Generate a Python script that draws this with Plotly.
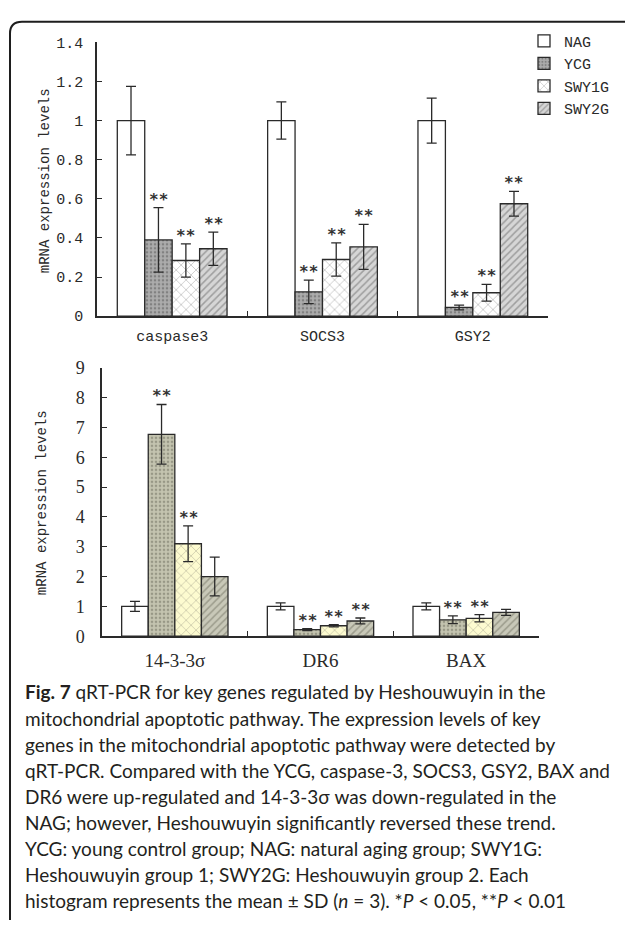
import plotly.graph_objects as go

W, H = 625, 927

# ---------------- data ----------------
groups = ["NAG", "YCG", "SWY1G", "SWY2G"]

top_genes = ["caspase3", "SOCS3", "GSY2"]
top_vals = {
    "NAG":   [1.0, 1.0, 1.0],
    "YCG":   [0.39, 0.125, 0.045],
    "SWY1G": [0.285, 0.29, 0.12],
    "SWY2G": [0.345, 0.355, 0.575],
}
top_sd = {
    "NAG":   [0.175, 0.095, 0.115],
    "YCG":   [0.165, 0.06, 0.012],
    "SWY1G": [0.085, 0.085, 0.043],
    "SWY2G": [0.085, 0.115, 0.063],
}
top_stars = {
    "NAG":   ["", "", ""],
    "YCG":   ["**", "**", "**"],
    "SWY1G": ["**", "**", "**"],
    "SWY2G": ["**", "**", "**"],
}
top_ticks = [0, 0.2, 0.4, 0.6, 0.8, 1.0, 1.2, 1.4]
top_ticktext = ["0", "0.2", "0.4", "0.6", "0.8", "1", "1.2", "1.4"]

bot_genes = ["14-3-3σ", "DR6", "BAX"]
bot_vals = {
    "NAG":   [1.0, 1.0, 1.0],
    "YCG":   [6.77, 0.22, 0.55],
    "SWY1G": [3.1, 0.35, 0.6],
    "SWY2G": [2.0, 0.51, 0.8],
}
bot_sd = {
    "NAG":   [0.17, 0.12, 0.12],
    "YCG":   [1.0, 0.03, 0.13],
    "SWY1G": [0.6, 0.035, 0.12],
    "SWY2G": [0.65, 0.1, 0.1],
}
bot_stars = {
    "NAG":   ["", "", ""],
    "YCG":   ["**", "**", "**"],
    "SWY1G": ["**", "**", "**"],
    "SWY2G": ["", "**", ""],
}
bot_ticks = [0, 1, 2, 3, 4, 5, 6, 7, 8, 9]

caption_lines = [
    "<b>Fig. 7</b> qRT-PCR for key genes regulated by Heshouwuyin in the",
    "mitochondrial apoptotic pathway. The expression levels of key",
    "genes in the mitochondrial apoptotic pathway were detected by",
    "qRT-PCR. Compared with the YCG, caspase-3, SOCS3, GSY2, BAX and",
    "DR6 were up-regulated and 14-3-3σ was down-regulated in the",
    "NAG; however, Heshouwuyin significantly reversed these trend.",
    "YCG: young control group; NAG: natural aging group; SWY1G:",
    "Heshouwuyin group 1; SWY2G: Heshouwuyin group 2. Each",
    "histogram represents the mean ± SD (<i>n</i> = 3). *<i>P</i> &lt; 0.05, **<i>P</i> &lt; 0.01",
]

# ---------------- styles ----------------
top_style = {
    "NAG":   dict(color="white", pattern=dict(shape="")),
    "YCG":   dict(color="#a0a0a0", pattern=dict(shape=".", fgcolor="#555555", bgcolor="#acacac", size=4, solidity=0.35)),
    "SWY1G": dict(color="white", pattern=dict(shape="x", fgcolor="#7a7a7a", bgcolor="white", size=7, solidity=0.2)),
    "SWY2G": dict(color="#c0c0c0", pattern=dict(shape="/", fgcolor="#666666", bgcolor="#d6d6d6", size=5, solidity=0.3)),
}
bot_style = {
    "NAG":   dict(color="white", pattern=dict(shape="")),
    "YCG":   dict(color="#b4b4a0", pattern=dict(shape=".", fgcolor="#6c6c5c", bgcolor="#c4c4b0", size=4, solidity=0.35)),
    "SWY1G": dict(color="#fbf8c8", pattern=dict(shape="x", fgcolor="#8e8e7c", bgcolor="#fdfbd0", size=7, solidity=0.2)),
    "SWY2G": dict(color="#b0b0a0", pattern=dict(shape="/", fgcolor="#707060", bgcolor="#c8c8b8", size=5, solidity=0.3)),
}

BARGAP = 0.27
INK = "#2a2a2a"
MONO = "Liberation Mono"
SERIF = "Liberation Serif"

fig = go.Figure()

for g in groups:
    fig.add_trace(go.Bar(
        x=top_genes, y=top_vals[g], name=g, xaxis="x", yaxis="y",
        marker=dict(color=top_style[g]["color"], pattern=top_style[g]["pattern"],
                    line=dict(color=INK, width=1.3)),
        error_y=dict(type="data", array=top_sd[g], color=INK, thickness=1.3, width=5),
        showlegend=True,
    ))
for g in groups:
    fig.add_trace(go.Bar(
        x=bot_genes, y=bot_vals[g], name=g, xaxis="x2", yaxis="y2",
        marker=dict(color=bot_style[g]["color"], pattern=bot_style[g]["pattern"],
                    line=dict(color=INK, width=1.3)),
        error_y=dict(type="data", array=bot_sd[g], color=INK, thickness=1.3, width=5),
        showlegend=False,
    ))

# significance stars
annotations = []
bw = (1 - BARGAP) / len(groups)
star_font = dict(family="DejaVu Sans Mono", size=16, color="#333")
for j, g in enumerate(groups):
    for i in range(3):
        if top_stars[g][i]:
            annotations.append(dict(
                x=i + (j - 1.5) * bw, y=top_vals[g][i] + top_sd[g][i],
                xref="x", yref="y", text="<b>" + top_stars[g][i] + "</b>", showarrow=False,
                yanchor="bottom", yshift=-3, font=star_font))
        if bot_stars[g][i]:
            annotations.append(dict(
                x=i + (j - 1.5) * bw, y=bot_vals[g][i] + bot_sd[g][i],
                xref="x2", yref="y2", text="<b>" + bot_stars[g][i] + "</b>", showarrow=False,
                yanchor="bottom", yshift=-3, font=star_font))

# y-axis titles
annotations.append(dict(x=45 / W, y=1 - 175 / H, xref="paper", yref="paper",
                        xanchor="center", yanchor="middle",
                        text="mRNA expression levels", textangle=-90, showarrow=False,
                        font=dict(family=MONO, size=14, color=INK)))
annotations.append(dict(x=42 / W, y=1 - 504 / H, xref="paper", yref="paper",
                        xanchor="center", yanchor="middle",
                        text="mRNA expression levels", textangle=-90, showarrow=False,
                        font=dict(family=MONO, size=14, color=INK)))

# caption
for k, line in enumerate(caption_lines):
    annotations.append(dict(x=23 / W, y=1 - (697 + 26.7 * k) / H, xref="paper", yref="paper",
                            xanchor="left", yanchor="middle", align="left", text=line,
                            showarrow=False, font=dict(family="Lato", size=19, color="#231f20")))

axis_common = dict(showline=True, linecolor=INK, linewidth=1.5, ticks="inside",
                   ticklen=5, tickcolor=INK, tickwidth=1.3, showgrid=False, zeroline=False)

fig.update_layout(
    width=W, height=H, margin=dict(l=0, r=0, t=0, b=0),
    paper_bgcolor="white", plot_bgcolor="white",
    barmode="group", bargap=BARGAP, bargroupgap=0,
    xaxis=dict(domain=[97 / W, 548 / W], anchor="y", type="category", tickson="boundaries",
               range=[-0.5, 2.5], ticklabelstandoff=5,
               tickfont=dict(family=MONO, size=15, color=INK), **axis_common),
    yaxis=dict(domain=[1 - 313 / H, 1 - 33 / H], anchor="x", range=[0, 1.4],
               tickvals=top_ticks, ticktext=top_ticktext, ticklabelstandoff=9,
               tickfont=dict(family=MONO, size=15, color=INK), **axis_common),
    xaxis2=dict(domain=[102 / W, 539 / W], anchor="y2", type="category", tickson="boundaries",
                range=[-0.5, 2.5], ticklabelstandoff=6,
                tickfont=dict(family=SERIF, size=19, color=INK), **axis_common),
    yaxis2=dict(domain=[1 - 640 / H, 1 - 365.7 / H], anchor="x2", range=[0, 9],
                tickvals=bot_ticks, ticklabelstandoff=12,
                tickfont=dict(family=SERIF, size=18, color=INK), **axis_common),
    legend=dict(x=524 / W, y=1 - 15 / H, xanchor="left", yanchor="top",
                bgcolor="rgba(0,0,0,0)", font=dict(family=MONO, size=15, color=INK),
                itemwidth=30, traceorder="normal", tracegroupgap=0),
    annotations=annotations,
    shapes=[dict(type="path", xref="paper", yref="paper",
                 path=f"M {10/W},{1-930/H} L {10/W},{1-24/H} Q {10/W},{1-12/H} {22/W},{1-12/H} L {640/W},{1-12/H}",
                 line=dict(color="#1e1e1e", width=2))],
)

fig.write_html("out.html", config={"displayModeBar": False},
               post_script="document.body.style.margin='0';document.body.style.overflow='hidden';")
